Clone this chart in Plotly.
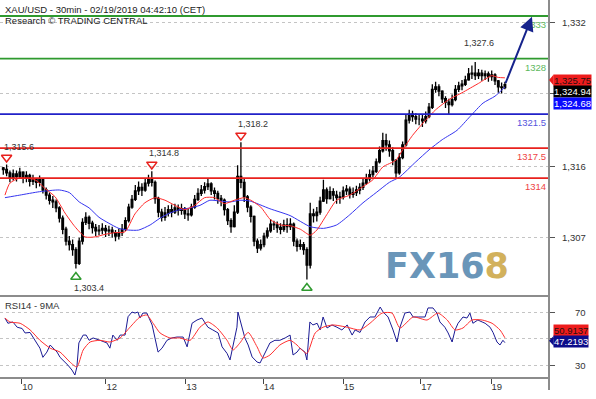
import plotly.graph_objects as go

# ---------------- data ----------------
close = [1315.0, 1314.6, 1314.0, 1314.5, 1314.2, 1314.7, 1314.0, 1314.3, 1313.6, 1313.9,
         1313.5, 1313.8, 1312.6, 1312.0, 1311.4, 1311.2, 1310.5, 1309.3, 1308.0, 1306.6,
         1306.2, 1305.6, 1304.0, 1306.6, 1308.8, 1309.4, 1308.7, 1308.2, 1307.8, 1307.9,
         1308.1, 1307.8, 1307.9, 1307.6, 1307.2, 1307.6, 1308.0, 1309.0, 1310.6, 1311.5,
         1312.5, 1312.9, 1312.6, 1313.4, 1313.8, 1313.5, 1311.6, 1310.0, 1309.4, 1309.9,
         1310.3, 1310.0, 1310.5, 1310.2, 1310.4, 1309.8, 1309.7, 1310.6, 1311.5, 1312.2,
         1312.6, 1313.0, 1313.3, 1312.5, 1312.2, 1311.6, 1311.4, 1310.3, 1309.0, 1308.3,
         1310.0, 1314.2, 1313.5, 1311.8, 1310.6, 1309.5, 1306.6, 1305.8, 1306.2, 1307.2,
         1307.8, 1308.6, 1308.5, 1308.2, 1308.0, 1308.5, 1308.3, 1308.6, 1306.6, 1306.0,
         1306.2, 1305.6, 1303.8, 1309.8, 1309.6, 1310.0, 1311.3, 1312.6, 1311.6, 1312.4,
         1312.0, 1311.7, 1311.8, 1312.5, 1312.7, 1312.1, 1312.3, 1312.6, 1312.9, 1313.4,
         1313.9, 1314.4, 1314.8, 1315.9, 1317.2, 1318.4, 1317.9, 1317.2, 1316.1, 1314.6,
         1316.4, 1317.9, 1320.8, 1321.5, 1321.2, 1320.9, 1320.9, 1320.7, 1321.2, 1322.3,
         1324.4, 1324.7, 1324.2, 1323.3, 1322.9, 1322.6, 1323.2, 1324.4, 1324.8, 1325.0,
         1325.5, 1326.2, 1326.3, 1326.0, 1326.3, 1326.0, 1326.2, 1325.9, 1326.1, 1325.4,
         1324.7, 1324.6, 1324.94]
high = [1315.3, 1315.6, 1314.9, 1315.0, 1314.9, 1315.2, 1314.8, 1314.8, 1314.5, 1314.4,
        1314.0, 1314.3, 1313.9, 1312.9, 1312.3, 1311.9, 1311.5, 1310.7, 1309.6, 1308.3,
        1307.2, 1306.8, 1305.9, 1307.0, 1309.3, 1310.0, 1309.6, 1309.0, 1308.6, 1308.5,
        1308.7, 1308.5, 1308.4, 1308.3, 1307.9, 1308.1, 1308.6, 1309.4, 1311.0, 1312.0,
        1313.2, 1313.6, 1313.4, 1313.9, 1314.4, 1314.8, 1313.7, 1311.8, 1310.4, 1310.6,
        1310.8, 1310.9, 1311.0, 1310.9, 1311.0, 1310.6, 1310.4, 1311.0, 1312.0, 1312.8,
        1313.2, 1313.5, 1314.0, 1313.5, 1312.9, 1312.5, 1312.0, 1311.6, 1310.5, 1309.3,
        1310.8, 1315.5, 1318.2, 1313.9, 1312.0, 1310.8, 1309.6, 1306.9, 1306.8, 1307.6,
        1308.2, 1309.2, 1309.0, 1308.9, 1308.7, 1309.1, 1309.3, 1309.3, 1308.8, 1306.9,
        1306.8, 1306.5, 1305.9, 1311.1, 1310.4, 1310.6, 1311.8, 1313.8, 1312.9, 1313.0,
        1312.8, 1312.5, 1312.4, 1313.0, 1313.2, 1313.0, 1312.9, 1313.1, 1313.4, 1313.9,
        1314.5, 1315.0, 1315.4, 1316.3, 1317.7, 1319.3, 1319.2, 1318.4, 1317.6, 1316.2,
        1316.9, 1318.3, 1321.4, 1322.0, 1321.9, 1321.6, 1321.5, 1321.4, 1321.8, 1322.8,
        1325.0, 1325.3, 1325.0, 1324.3, 1323.6, 1323.3, 1323.8, 1324.9, 1325.3, 1325.5,
        1326.0, 1326.9, 1327.2, 1327.6, 1326.8, 1326.7, 1326.6, 1326.5, 1326.6, 1326.3,
        1325.5, 1325.2, 1325.3]
low = [1314.4, 1314.2, 1313.5, 1313.7, 1313.6, 1313.9, 1313.4, 1313.5, 1313.0, 1313.2,
       1312.8, 1313.0, 1312.2, 1311.5, 1310.9, 1310.5, 1310.0, 1308.8, 1307.4, 1306.1,
       1305.5, 1304.9, 1303.4, 1303.8, 1306.2, 1308.5, 1308.0, 1307.5, 1307.2, 1307.3,
       1307.4, 1307.1, 1307.2, 1307.0, 1306.6, 1306.8, 1307.2, 1307.8, 1308.8, 1310.4,
       1311.3, 1312.0, 1311.9, 1312.4, 1313.0, 1313.0, 1311.0, 1309.4, 1308.9, 1309.0,
       1309.5, 1309.4, 1309.8, 1309.6, 1309.7, 1309.2, 1309.0, 1309.5, 1310.4, 1311.3,
       1311.9, 1312.2, 1312.6, 1312.0, 1311.5, 1311.0, 1310.7, 1309.6, 1308.5, 1307.6,
       1308.2, 1309.8, 1312.8, 1311.2, 1310.0, 1308.8, 1306.0, 1305.2, 1305.5, 1305.9,
       1306.9, 1307.6, 1307.9, 1307.6, 1307.4, 1307.7, 1307.6, 1307.9, 1306.0, 1305.4,
       1305.6, 1305.0, 1302.1, 1303.4, 1308.8, 1308.9, 1309.7, 1311.2, 1311.0, 1311.5,
       1311.3, 1311.0, 1311.0, 1311.5, 1312.0, 1311.6, 1311.7, 1311.9, 1312.1, 1312.6,
       1313.2, 1313.6, 1314.1, 1314.6, 1315.7, 1317.0, 1317.2, 1316.5, 1315.5, 1313.9,
       1314.4, 1316.2, 1317.7, 1320.4, 1320.6, 1320.3, 1320.2, 1320.0, 1320.4, 1321.0,
       1322.1, 1324.0, 1323.6, 1322.8, 1322.2, 1321.4, 1322.4, 1323.0, 1324.1, 1324.3,
       1324.8, 1325.4, 1325.6, 1325.5, 1325.6, 1325.4, 1325.5, 1325.3, 1325.4, 1324.9,
       1324.0, 1323.9, 1324.4]
first_open = 1315.2

ma_red_x = [0.5, 2, 5, 9.6, 12.6, 15.7, 18.7, 21.7, 24.8, 27.8,
            30.8, 33.8, 36.9, 39.9, 42.9, 46, 49, 52, 55, 58,
            61, 64, 67, 70, 73, 75, 78, 81, 84, 87,
            90, 93, 95, 98, 101, 105, 109, 112, 115, 119,
            121, 124, 128, 131, 135, 139, 144, 148, 150, 152]
ma_red = [1312.0, 1313.4, 1314.0, 1313.8, 1312.8, 1311.8, 1309.9, 1308.3, 1307.1, 1307.1,
          1307.4, 1307.6, 1307.7, 1309.8, 1311.1, 1311.7, 1311.4, 1310.8, 1310.3, 1310.8,
          1311.7, 1311.7, 1311.0, 1311.4, 1311.7, 1311.4, 1310.6, 1309.1, 1308.5, 1308.4,
          1308.0, 1307.3, 1307.9, 1309.7, 1311.4, 1312.0, 1313.0, 1313.8, 1315.3, 1316.1,
          1317.3, 1319.0, 1320.8, 1322.0, 1323.2, 1324.0, 1325.1, 1326.0, 1325.8, 1325.75]

ma_blue_x = [0.5, 5, 11, 17, 20, 23, 26, 29, 32, 35,
             38, 41, 44.5, 47.5, 50.5, 53.5, 56.6, 59.6, 62.6, 65.7,
             68.7, 71.7, 74.8, 80.8, 86.9, 93, 97, 101, 105, 109,
             113, 117, 120, 125, 129, 133, 137.5, 141.4, 145.4, 149, 152]
ma_blue = [1311.7, 1312.0, 1312.4, 1312.6, 1312.3, 1311.2, 1310.5, 1309.4, 1308.7, 1308.1,
           1307.9, 1307.9, 1308.5, 1309.3, 1309.9, 1310.3, 1310.5, 1310.8, 1311.4, 1311.3,
           1311.2, 1311.4, 1311.3, 1310.4, 1309.6, 1308.3, 1308.1, 1308.5, 1309.7, 1311.1,
           1312.3, 1313.5, 1314.1, 1315.9, 1317.3, 1318.5, 1319.6, 1321.2, 1322.8, 1323.6, 1324.68]

rsi_x = [0.5, 1.4, 2.9, 4.2, 5.7, 6.6, 8.1, 9, 10.2, 11.1,
         12, 13.2, 14.2, 15.1, 16.3, 17.2, 18.7, 19.6, 20.8, 21.7,
         22.3, 22.9, 24.2, 25.1, 26, 27.2, 29.3, 31.4, 32.3, 33.2,
         34.5, 35.4, 36.9, 37.8, 39, 39.9, 40.8, 41.4, 42.3, 43.5,
         45.1, 46, 46.9, 48.1, 49.6, 51.1, 52.6, 54.5, 55.7, 57.2,
         58.7, 60.2, 61.1, 62, 63.5, 65.1, 66.3, 67.8, 68.7, 69.6,
         70.8, 71.1, 72.3, 73.2, 74.2, 75.4, 76.9, 77.8, 78.7, 79.9,
         80.8, 82.3, 83.8, 85.4, 86.9, 87.8, 89, 89.9, 91.4, 92,
         92.9, 93.8, 95.1, 96, 96.9, 98.1, 99.6, 101.1, 102.6, 104.2,
         105.7, 106.6, 108.1, 109.6, 111.1, 112.6, 114.2, 115.1, 116.6, 118.1,
         119.3, 120.2, 121.7, 123.2, 124.2, 125.7, 127.8, 128.7, 130.2, 131.4,
         132.3, 133.8, 134.8, 136, 136.9, 137.8, 139.3, 140.5, 141.4, 142.3,
         143.8, 145.1, 146, 147.5, 148.4, 149.6, 150.5, 151.4, 152]
rsi = [66, 62, 63, 59, 58, 54.6, 55, 51.5, 47, 43,
       36, 40, 45.4, 43, 40, 36, 32.4, 30, 26.3, 22.5,
       28.6, 47, 53, 53, 49, 50.8, 49, 47, 43, 53,
       49, 53, 53, 67, 70.6, 69.8, 70.6, 66, 69.8, 69.8,
       60.7, 51.5, 40, 43, 49, 50.8, 51.5, 51.5, 44, 62,
       64.5, 66, 62, 59, 56.9, 54.6, 44, 39, 34, 45.4,
       59, 70.6, 59, 50.8, 45.4, 36.3, 32.4, 31.7, 36.3, 43,
       47, 49, 49, 50.8, 53, 37.8, 40, 43, 40, 34,
       63, 60.7, 62, 56.9, 66.8, 58.4, 60.7, 59, 56.9, 60.7,
       53, 56.9, 55, 63, 66.8, 66.8, 74.4, 70.6, 66.8, 56.9,
       47.7, 59, 69.8, 70.6, 66.8, 66.8, 66.8, 73.7, 73.7, 69.8,
       63, 59, 54.6, 47.7, 56.9, 62, 66.8, 66, 69.8, 62,
       64.5, 63, 62, 59, 55, 47.7, 45.4, 49, 47.2193]

rsi_ma_x = [0.5, 2, 5.1, 8.1, 11.1, 14.2, 17.2, 20.2, 22.3, 24.2,
            26.3, 29.3, 32.3, 35.4, 38.4, 41.4, 43.5, 45.4, 47.5, 50.5,
            53.5, 56.6, 59.6, 62, 64.8, 67.8, 69.6, 71.7, 74.2, 76.9,
            78.7, 80.8, 83.8, 86.9, 89, 89.9, 92, 94.5, 96.9, 99.9,
            104.2, 108.1, 111.1, 114.8, 117.8, 120.2, 124.2, 128.4, 131.7, 134.5,
            136.9, 139.3, 142, 145.1, 148.1, 150.5, 152]
rsi_ma = [66, 63, 62, 57, 49, 43, 40, 32.4, 28.6, 41.6,
          47.7, 49, 47.7, 50.8, 59, 66.8, 68.3, 62, 54.6, 50.8,
          50.8, 49, 59, 63, 58.4, 49, 41.6, 47, 55, 44,
          35.5, 37.8, 45.4, 49, 45.4, 43, 39, 54.6, 59, 60.7,
          59, 56.9, 62, 69.8, 69.8, 58.4, 66.8, 64.5, 69.8, 64.5,
          56.9, 58.4, 64.5, 64.5, 62, 56.9, 50.9137]

levels = [1333, 1328, 1321.5, 1317.5, 1314]
level_labels = ["1333", "1328", "1321.5", "1317.5", "1314"]

day_ticks = [5.6, 31.1, 55.3, 78.8, 103.0, 126.5, 147.8]
day_labels = ["10", "12", "13", "14", "15", "17", "19"]

price_ticks = [1307.0, 1315.4, 1323.86, 1332.2]
price_tick_labels = ["1,307", "1,316", "", "1,332"]
rsi_ticks = [30, 50, 70]
rsi_tick_labels = ["30", "", "70"]

peak_x = [1, 45, 72]
peak_val = [1315.6, 1314.8, 1318.2]
trough_x = [22, 92]
trough_val = [1303.4, 1302.1]
trough_labels = ["1,303.4", ""]
top_x = 143
top_val = 1327.6

arrow_start = (152, 1324.94)
arrow_end = (160.2, 1332.9)

last_red = 1325.75
last_close = 1324.94
last_blue = 1324.68
last_rsi_ma = 50.9137
last_rsi = 47.2193

# ---------------- styling ----------------
FONT = "Liberation Sans, Arial, sans-serif"
GREEN, GREEN_T = "#2f9a2f", "#5cb85c"
BLUE, BLUE_T = "#2121c8", "#5555dd"
RED, RED_T = "#e8211d", "#ee4444"
level_colors = [GREEN, GREEN, BLUE, RED, RED]
level_text_colors = [GREEN_T, GREEN_T, BLUE_T, RED_T, RED_T]
AXIS_GRAY = "#8c8c8c"

opens = [first_open] + close[:-1]
x_idx = list(range(len(close)))

fig = go.Figure()

fig.add_trace(go.Candlestick(
    x=x_idx, open=opens, high=high, low=low, close=close,
    increasing=dict(line=dict(color="#000000", width=1.3), fillcolor="#000000"),
    decreasing=dict(line=dict(color="#000000", width=1.3), fillcolor="#000000"),
    whiskerwidth=0, xaxis="x", yaxis="y", hoverinfo="skip"))

fig.add_trace(go.Scatter(x=ma_blue_x, y=ma_blue, mode="lines",
                         line=dict(color="#3535f0", width=1, shape="spline", smoothing=0.6),
                         xaxis="x", yaxis="y", hoverinfo="skip"))
fig.add_trace(go.Scatter(x=ma_red_x, y=ma_red, mode="lines",
                         line=dict(color="#ff2b2b", width=1, shape="spline", smoothing=0.6),
                         xaxis="x", yaxis="y", hoverinfo="skip"))

PEAK_OFF = 0.8
TROUGH_OFF = 1.0
fig.add_trace(go.Scatter(x=peak_x, y=[v + PEAK_OFF for v in peak_val], mode="markers",
                         marker=dict(symbol="triangle-down-open", size=9, color=RED,
                                     line=dict(width=1.5, color=RED)),
                         xaxis="x", yaxis="y", hoverinfo="skip"))
fig.add_trace(go.Scatter(x=trough_x, y=[v - TROUGH_OFF for v in trough_val], mode="markers",
                         marker=dict(symbol="triangle-up-open", size=9, color=GREEN,
                                     line=dict(width=1.5, color=GREEN)),
                         xaxis="x", yaxis="y", hoverinfo="skip"))

# RSI panel
fig.add_trace(go.Scatter(x=rsi_x, y=rsi, mode="lines",
                         line=dict(color="#1b1b95", width=1),
                         xaxis="x", yaxis="y2", hoverinfo="skip"))
fig.add_trace(go.Scatter(x=rsi_ma_x, y=rsi_ma, mode="lines",
                         line=dict(color="#ff3030", width=1, shape="spline", smoothing=0.6),
                         xaxis="x", yaxis="y2", hoverinfo="skip"))

MAIN_BOTTOM = 0.2169
RSI_TOP = 0.2143

shapes = []
for lv, col in zip(levels, level_colors):
    shapes.append(dict(type="line", xref="paper", x0=0, x1=1, yref="y", y0=lv, y1=lv,
                       line=dict(color=col, width=1.8), layer="above"))
# frame lines
shapes.append(dict(type="line", xref="paper", x0=1, x1=1, yref="paper", y0=-0.032, y1=1,
                   line=dict(color=AXIS_GRAY, width=2)))
shapes.append(dict(type="line", xref="paper", x0=0, x1=1, yref="paper", y0=MAIN_BOTTOM, y1=MAIN_BOTTOM,
                   line=dict(color=AXIS_GRAY, width=2)))
shapes.append(dict(type="line", xref="paper", x0=0, x1=1, yref="paper", y0=0, y1=0,
                   line=dict(color=AXIS_GRAY, width=2)))
# notches of the value boxes
shapes.append(dict(type="path", xref="paper", yref="y",
                   path="M 1.0,1325.5 L 1.0085,1326.15 L 1.0085,1324.85 Z",
                   fillcolor="#ee1c1c", line=dict(width=0)))
shapes.append(dict(type="path", xref="paper", yref="y2",
                   path="M 1.0,48.6 L 1.0085,52.3 L 1.0085,44.9 Z",
                   fillcolor="#0c0c8a", line=dict(width=0)))

ann = []
ann.append(dict(xref="paper", yref="paper", x=0, y=1, xanchor="left", yanchor="top",
                xshift=3, yshift=-2, showarrow=False,
                text="XAU/USD - 30min - 02/19/2019 04:42:10 (CET)",
                font=dict(family=FONT, size=9.5, color="#222")))
ann.append(dict(xref="paper", yref="paper", x=0, y=1, xanchor="left", yanchor="top",
                xshift=3, yshift=-13, showarrow=False,
                text="Research © TRADING CENTRAL",
                font=dict(family=FONT, size=9.5, color="#222")))
ann.append(dict(xref="paper", yref="paper", x=0, y=RSI_TOP, xanchor="left", yanchor="top",
                xshift=3, yshift=-1, showarrow=False, text="RSI14 - 9MA",
                font=dict(family=FONT, size=9.5, color="#333")))

for lv, lab, tc in zip(levels, level_labels, level_text_colors):
    ann.append(dict(xref="paper", yref="y", x=1, y=lv, xanchor="right", yanchor="top",
                    xshift=-1, yshift=-1, showarrow=False, text=lab,
                    font=dict(family=FONT, size=9.5, color=tc)))

for px_, v in zip(peak_x, peak_val):
    ann.append(dict(xref="x", yref="y", x=px_, y=v + PEAK_OFF, xanchor="left", yanchor="bottom",
                    xshift=-5, yshift=4, showarrow=False, text=f"{v:,.1f}",
                    font=dict(family=FONT, size=9, color="#333")))
for tx, v, lab in zip(trough_x, trough_val, trough_labels):
    if lab:
        ann.append(dict(xref="x", yref="y", x=tx, y=v - TROUGH_OFF, xanchor="left", yanchor="top",
                        xshift=-4, yshift=-4, showarrow=False, text=lab,
                        font=dict(family=FONT, size=9, color="#333")))
ann.append(dict(xref="x", yref="y", x=top_x, y=top_val, xanchor="center", yanchor="bottom",
                xshift=4, yshift=12, showarrow=False, text=f"{top_val:,.1f}",
                font=dict(family=FONT, size=9, color="#333")))

# projection arrow
ann.append(dict(xref="x", yref="y", axref="x", ayref="y",
                x=arrow_end[0], y=arrow_end[1], ax=arrow_start[0], ay=arrow_start[1],
                showarrow=True, arrowhead=2, arrowsize=1.4, arrowwidth=2,
                arrowcolor="#16238c", text="", standoff=0, startstandoff=0))

# tick labels (right-aligned)
for tv, tl in zip(price_ticks, price_tick_labels):
    if tl:
        ann.append(dict(xref="paper", yref="y", x=1.071, y=tv, xanchor="right", yanchor="middle",
                        showarrow=False, text=tl, font=dict(family=FONT, size=9.5, color="#333")))
for tv, tl in zip(rsi_ticks, rsi_tick_labels):
    if tl:
        ann.append(dict(xref="paper", yref="y2", x=1.071, y=tv, xanchor="right", yanchor="middle",
                        showarrow=False, text=tl, font=dict(family=FONT, size=9.5, color="#333")))

# value boxes
def box(val, yref, shift, txt, bg, fc):
    return dict(xref="paper", yref=yref, x=1, y=val, xanchor="left", yanchor="middle",
                xshift=4, yshift=shift, showarrow=False, text=txt, bgcolor=bg, borderpad=0,
                font=dict(family=FONT, size=9.5, color=fc))

ann.append(box(last_red, "y", -2.4, f"{last_red:,.2f}", "#ee1c1c", "#2a1010"))
ann.append(box(last_close, "y", -6.5, f"{last_close:,.2f}", "#000000", "#ffffff"))
ann.append(box(last_blue, "y", -16.5, f"{last_blue:,.2f}", "#0a0aff", "#ffffff"))
ann.append(box(last_rsi_ma, "y2", 7, f"{last_rsi_ma:.4f}", "#ee1c1c", "#2a1010"))
ann.append(box(last_rsi, "y2", 1.6, f"{last_rsi:.4f}", "#0c0c8a", "#ffffff"))

# watermark logo
ann.append(dict(xref="paper", yref="paper", x=0.814, y=0.296, xanchor="center", yanchor="middle",
                showarrow=False,
                text="<b><span style='color:#6a96b9'>FX16</span><span style='color:#d2b15c'>8</span></b>",
                font=dict(family="DejaVu Sans", size=35, color="#6a96b9")))

fig.update_layout(
    width=596, height=399,
    margin=dict(l=0, r=47, t=0, b=21),
    paper_bgcolor="white", plot_bgcolor="white",
    showlegend=False,
    xaxis=dict(domain=[0, 1], range=[-1, 165.36], anchor="y2",
               tickvals=day_ticks, ticktext=day_labels, ticks="outside", ticklen=5,
               tickcolor="#444", tickwidth=1, ticklabelposition="outside right",
               tickfont=dict(family=FONT, size=9.5, color="#333"),
               showgrid=False, zeroline=False, showline=False,
               rangeslider=dict(visible=False)),
    yaxis=dict(domain=[MAIN_BOTTOM, 1], range=[1300.17, 1334.876], side="right", anchor="x",
               tickvals=price_ticks, showticklabels=False, ticks="outside", ticklen=5,
               tickcolor="#555", showgrid=True, gridcolor="#c4c4c4", griddash="dot",
               zeroline=False, showline=False),
    yaxis2=dict(domain=[0, RSI_TOP], range=[20.23, 82.06], side="right", anchor="x",
                tickvals=rsi_ticks, showticklabels=False, ticks="outside", ticklen=5,
                tickcolor="#555", showgrid=True, gridcolor="#c4c4c4", griddash="dot",
                zeroline=False, showline=False),
    shapes=shapes,
    annotations=ann,
)

fig.write_html("out.html")
